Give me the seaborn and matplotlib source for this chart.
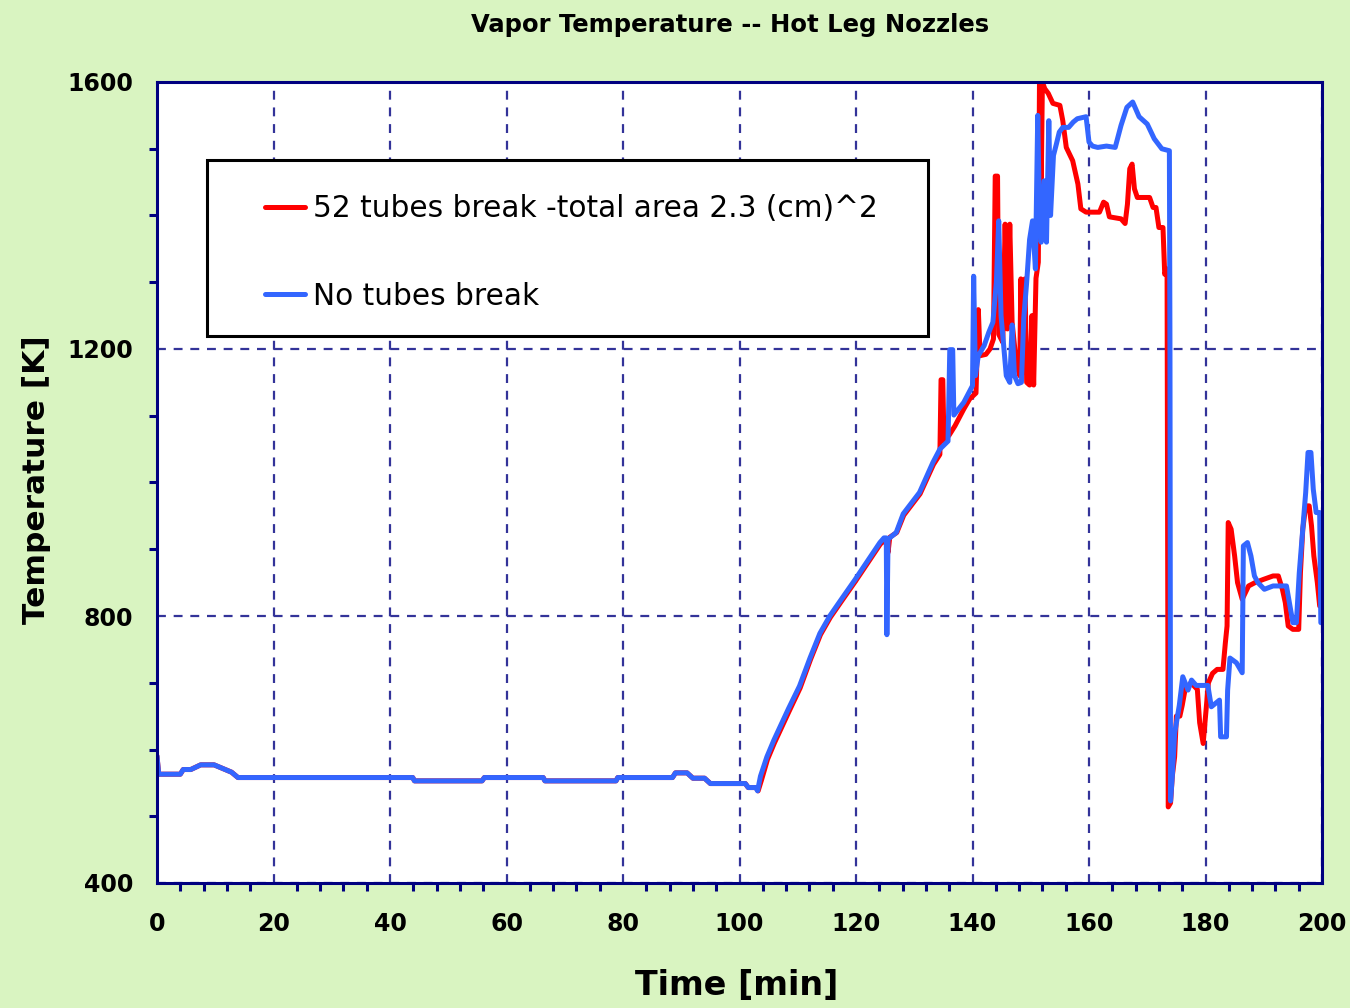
import matplotlib
matplotlib.use("Agg")
import matplotlib.pyplot as plt
from matplotlib.lines import Line2D
from matplotlib.patches import Rectangle
from matplotlib.ticker import MultipleLocator
import seaborn as sns
import pandas as pd

# ---------------- data ----------------
title = "Vapor Temperature -- Hot Leg Nozzles"
x_label = "Time [min]"
y_label = "Temperature [K]"
label_break = "52 tubes break -total area 2.3 (cm)^2"
label_nobreak = "No tubes break"

t_break = [0, 0.3, 4.0, 4.5, 5.8, 7.5, 9.8, 10.9, 12.8, 13.9, 43.9, 44.2, 55.8, 56.2,
           66.3, 66.6, 78.8, 79.1, 88.5, 89.0, 91.0, 92.0, 94.0, 95.0, 101.0, 101.5,
           102.8, 103.2, 103.8, 104.8, 106.0, 108.5, 110.4, 112.2, 113.9, 115.6, 117.5,
           119.9, 121.9, 124.2, 125.2, 125.5, 125.8, 127.0, 128.2, 131.0, 133.3, 134.4,
           134.6, 134.9, 135.1, 136.0, 137.0, 138.5, 139.5, 140.6, 141.0, 141.3, 142.3,
           143.0, 143.6, 143.9, 144.3, 144.5, 145.2, 145.6, 146.0, 146.4, 146.8, 147.5,
           148.1, 148.3, 148.6, 149.0, 149.3, 149.8, 150.2, 150.5, 150.9, 151.3, 151.5,
           151.8, 152.0, 152.4, 153.0, 153.8, 155.0, 155.5, 156.1, 157.2, 158.1, 158.6,
           159.5, 161.8, 162.5, 163.0, 163.5, 165.5, 166.2, 166.6, 167.0, 167.4, 167.8,
           168.3, 170.4, 171.0, 171.5, 172.0, 172.7, 173.0, 173.4, 173.6, 174.0, 174.3,
           174.7, 175.0, 175.6, 176.0, 176.5, 177.5, 178.6, 179.0, 179.6, 180.0, 180.5,
           181.2, 182.0, 183.0, 183.4, 183.7, 183.9, 184.4, 185.0, 185.5, 186.3, 187.4,
           188.5, 190.0, 191.6, 192.5, 193.2, 193.7, 194.2, 195.0, 196.0, 196.3, 196.7,
           197.2, 197.8, 198.2, 198.6, 199.2, 199.6, 199.9]
T_break = [590, 563, 563, 570, 570, 577, 577, 573, 566, 558, 558, 553, 553, 558,
           558, 553, 553, 558, 558, 565, 565, 557, 557, 549, 549, 543,
           543, 538, 555, 585, 610, 657, 692, 735, 772, 798, 822,
           852, 878, 908, 915, 895, 918, 925, 951, 983, 1027, 1042,
           1154, 1154, 1062, 1071, 1085, 1110, 1125, 1134, 1259, 1190, 1192,
           1200, 1215, 1459, 1459, 1222, 1210, 1387, 1230, 1387, 1240, 1180,
           1160, 1305, 1165, 1305, 1150, 1146, 1250, 1146, 1306, 1330, 1600,
           1450, 1600, 1590, 1583, 1568, 1565, 1542, 1502, 1482, 1447, 1410,
           1405, 1405, 1420, 1417, 1398, 1395, 1388, 1417, 1470, 1477, 1440,
           1427, 1427, 1412, 1412, 1382, 1382, 1312, 1320, 514, 520, 560,
           589, 650, 650, 666, 690, 700, 690, 640, 609, 650, 700,
           714, 720, 720, 759, 785, 940, 930, 890, 850, 825, 845,
           850, 855, 860, 860, 840, 820, 785, 780, 780, 865, 930,
           965, 965, 935, 890, 850, 815, 820]

t_nobreak = [0, 0.3, 4.0, 4.5, 5.8, 7.5, 9.8, 10.9, 12.8, 13.9, 43.9, 44.2, 55.8, 56.2,
             66.3, 66.6, 78.8, 79.1, 88.5, 89.0, 91.0, 92.0, 94.0, 95.0, 101.0, 101.5,
             102.8, 103.1, 103.6, 104.7, 105.9, 108.4, 110.3, 112.1, 113.8, 115.5, 117.4,
             119.8, 121.8, 124.1, 124.8, 125.2, 125.3, 125.5, 126.9, 128.1, 130.9, 133.2,
             134.4, 135.8, 136.1, 136.6, 136.8, 138.5, 140.0, 140.2, 140.5, 141.0, 142.0,
             142.8, 143.5, 144.1, 144.5, 144.9, 145.3, 145.8, 146.4, 146.8, 147.2, 147.8,
             148.4, 148.8, 149.3, 149.8, 150.3, 150.8, 151.2, 151.5, 151.8, 152.3, 152.7,
             153.1, 153.4, 153.9, 154.4, 154.9, 155.5, 156.5, 157.3, 158.0, 159.5, 160.0,
             160.6, 161.5, 163.0, 164.5, 165.5, 166.5, 167.5, 168.0, 168.6, 170.0, 171.2,
             172.5, 173.8, 173.9, 174.0, 174.3, 174.7, 175.5, 176.1, 177.0, 177.6, 178.4,
             180.4, 181.0, 182.4, 182.6, 183.6, 183.8, 184.2, 185.3, 186.3, 186.5, 187.2,
             187.8, 188.4, 189.0, 190.1, 191.6, 193.9, 194.4, 195.0, 195.6, 196.1, 196.7,
             197.2, 197.6, 198.1, 198.5, 199.0, 199.6, 199.8]
T_nobreak = [590, 563, 563, 570, 570, 577, 577, 573, 566, 558, 558, 553, 553, 558,
             558, 553, 553, 558, 558, 565, 565, 557, 557, 549, 549, 543,
             543, 538, 560, 589, 614, 661, 695, 737, 774, 800, 824,
             854, 880, 910, 917, 917, 772, 915, 925, 953, 985, 1030,
             1050, 1062, 1199, 1199, 1101, 1120, 1145, 1309, 1160, 1190, 1205,
             1225, 1240, 1300, 1392, 1250, 1210, 1160, 1150, 1236, 1160, 1148,
             1150, 1246, 1300, 1364, 1392, 1320, 1550, 1400, 1360, 1452, 1360,
             1542, 1400, 1490, 1507, 1525, 1532, 1532, 1540, 1545, 1548, 1510,
             1504, 1502, 1504, 1502, 1535, 1562, 1570, 1560, 1548, 1537, 1515,
             1500, 1497, 1200, 523, 560, 624, 666, 709, 689, 704, 696,
             696, 664, 674, 619, 619, 689, 737, 730, 715, 905, 910,
             890, 860, 850, 840, 845, 845, 820, 790, 790, 865, 930,
             985, 1045, 1045, 990, 955, 955, 790]

x_ticks = [0, 20, 40, 60, 80, 100, 120, 140, 160, 180, 200]
y_ticks = [400, 800, 1200, 1600]

red = "#FF0000"
blue = "#3366FF"
navy = "#000080"
grid_c = "#333399"
bg = "#D9F4C1"

df = pd.concat([
    pd.DataFrame({"t": t_break, "T": T_break, "series": label_break}),
    pd.DataFrame({"t": t_nobreak, "T": T_nobreak, "series": label_nobreak}),
], ignore_index=True)

sns.set_theme(style="white")
plt.rcParams["font.family"] = ["DejaVu Sans"]
plt.rcParams["text.color"] = "black"

fig = plt.figure(figsize=(13.5, 10.08), dpi=100, facecolor=bg)
ax = fig.add_axes([157/1350, 125/1008, 1165/1350, 801/1008])
ax.set_facecolor("white")

sns.lineplot(data=df, x="t", y="T", hue="series",
             hue_order=[label_break, label_nobreak], palette=[red, blue],
             estimator=None, sort=False, linewidth=3.6, legend=False, ax=ax)

ax.set_xlim(0, 200)
ax.set_ylim(400, 1600)
ax.set_xticks(x_ticks)
ax.set_yticks(y_ticks)
ax.xaxis.set_minor_locator(MultipleLocator(4))
ax.yaxis.set_minor_locator(MultipleLocator(100))

ax.grid(True, which="major", color=grid_c, linestyle=(0, (4, 3.5)), linewidth=1.6)
for s in ax.spines.values():
    s.set_color(navy)
    s.set_linewidth(2.2)
    s.set_visible(True)

ax.tick_params(axis="both", which="major", direction="inout", length=12, width=2.2,
               color=navy, labelsize=17, labelcolor="black")
ax.tick_params(axis="both", which="minor", direction="out", length=5.5, width=2.2,
               color=navy, bottom=True, left=True)
ax.tick_params(axis="x", which="major", pad=15)
ax.tick_params(axis="y", which="major", pad=11)
for lab in ax.get_xticklabels() + ax.get_yticklabels():
    lab.set_fontweight("bold")

ax.set_xlabel("")
ax.set_ylabel("")
fig.text(0.546, 0.006, x_label, ha="center", va="bottom", fontsize=24,
         fontweight="bold", color="black")
fig.text(0.027, 0.524, y_label, ha="center", va="center", rotation=90,
         fontsize=22.5, fontweight="bold", color="black")
fig.text(0.541, 0.975, title, ha="center", va="center", fontsize=17.5,
         fontweight="bold", color="black")

# legend frame (pixel box 207..928 x 160..336)
ax.add_patch(Rectangle((50/1165, 1 - 254/801), 721/1165, 176/801,
                       transform=ax.transAxes, facecolor="white",
                       edgecolor="black", linewidth=2.2, zorder=4))
handles = [Line2D([], [], color=red, lw=3.6), Line2D([], [], color=blue, lw=3.6)]
leg = ax.legend(handles, [label_break, label_nobreak], loc="upper left",
                bbox_to_anchor=(108/1165, 1 - 112/801), borderaxespad=0,
                fontsize=21.3, frameon=False, handlelength=1.35, handletextpad=0.27,
                labelspacing=1.98, borderpad=0, labelcolor="black")
leg.set_zorder(5)

fig.savefig("out.png", dpi=100, facecolor=bg)
